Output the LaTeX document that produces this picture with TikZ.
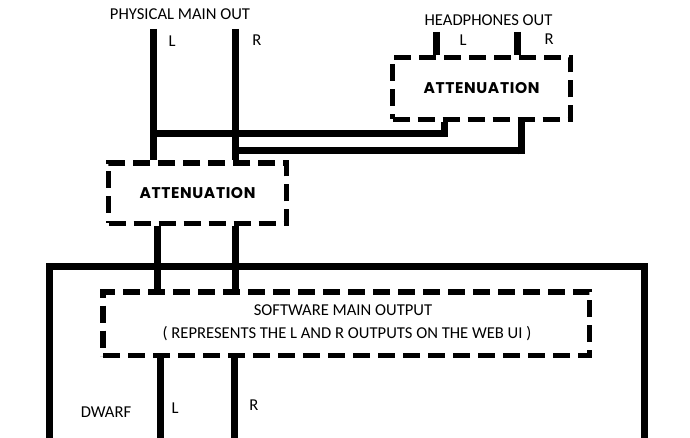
\documentclass[tikz,border=0pt]{standalone}
\usepackage{fontspec}
\setmainfont{Carlito}
\newfontfamily\attfont{Poppins}[LetterSpace=4]
\begin{document}
\begin{tikzpicture}[x=1pt,y=-1pt,
  wire/.style={line width=7pt},
  frame/.style={line width=7pt},
  dbox/.style={draw, line width=5.5pt, dash pattern=on 17pt off 8pt, inner sep=0pt},
  lbl/.style={font=\fontsize{16.6}{20}\selectfont, inner sep=0pt},
  att/.style={font=\attfont\bfseries\fontsize{15.5}{18}\selectfont}]
\useasboundingbox (0,0) rectangle (690,438);

% boxes
\node[dbox, minimum width=178pt, minimum height=62pt, att] (hpatt) at (481.5,88.5) {ATTENUATION};
\node[dbox, minimum width=178pt, minimum height=60.5pt, att] (matt) at (197.5,193.25) {ATTENUATION};
\node[dbox, minimum width=486.5pt, minimum height=63.5pt] (sw) at (346.25,323.75) {};
\node[lbl] (sw1) at (343,310) {SOFTWARE MAIN OUTPUT};
\node[lbl] (sw2) at (347,334) {( REPRESENTS THE L AND R OUTPUTS ON THE WEB UI )};

% dwarf frame
\coordinate (fbl) at (49.5,438);
\coordinate (fbr) at (644.5,438);
\draw[frame] (fbl) -- (49.5,266) -- (644.5,266) -- (fbr);

% titles and labels
\node[lbl] (pmo) at (180,14.5) {PHYSICAL MAIN OUT};
\node[lbl] (hpo) at (488.5,20) {HEADPHONES OUT};
\node[lbl] (pl) at (172,41) {L};
\node[lbl] (pr) at (257,40) {R};
\node[lbl] (hl) at (463,40) {L};
\node[lbl] (hr) at (549,39) {R};
\node[lbl] (dw) at (106,412) {DWARF};
\node[lbl] (dl) at (175,408) {L};
\node[lbl] (dr) at (254,405) {R};

% free ends
\coordinate (pLt) at (153.5,29);
\coordinate (pRt) at (235.5,29);
\coordinate (hLt) at (436.5,32);
\coordinate (hRt) at (517.5,32);
\coordinate (dLb) at (160,438);
\coordinate (dRb) at (234.5,438);

% wires
\draw[wire] (pLt) -- (pLt |- matt.north);
\draw[wire] (pRt) -- (pRt |- matt.north);
\draw[wire] (hLt) -- (hLt |- hpatt.north);
\draw[wire] (hRt) -- (hRt |- hpatt.north);
\draw[wire] (150,133.5) -- (444,133.5) -- (444 ,0 |- hpatt.south);
\draw[wire] (232,151) -- (525,151);
\draw[wire] (521.5,154.5) -- (521.5,0 |- hpatt.south);
\draw[wire] (157.5,0 |- matt.south) -- (157.5,0 |- sw.north);
\draw[wire] (235.5,0 |- matt.south) -- (235.5,0 |- sw.north);
\draw[wire] (dLb) -- (dLb |- sw.south);
\draw[wire] (dRb) -- (dRb |- sw.south);
\end{tikzpicture}
\end{document}
